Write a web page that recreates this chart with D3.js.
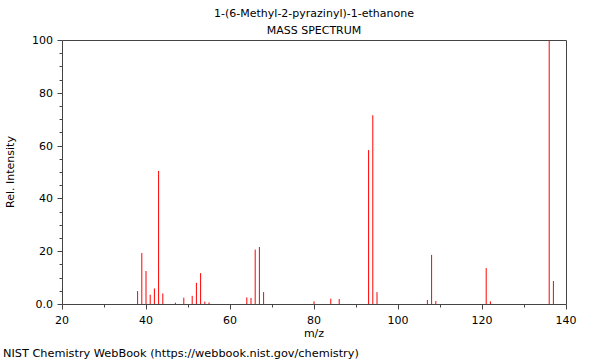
<!DOCTYPE html>
<html>
<head>
<meta charset="utf-8">
<script src="https://cdn.jsdelivr.net/npm/d3@7"></script>
<style>
  html, body { margin: 0; padding: 0; background: #fff; }
  svg { display: block; font-family: "DejaVu Sans", sans-serif; }
</style>
</head>
<body>
<svg id="chart" width="600" height="360"></svg>
<script>
// Data
const titleLines = ["1-(6-Methyl-2-pyrazinyl)-1-ethanone", "MASS SPECTRUM"];
const mz = [38, 39, 40, 41, 42, 43, 44, 47, 49, 51, 52, 53, 54, 55, 64, 65, 66, 67, 68, 80, 84, 86, 93, 94, 95, 107, 108, 109, 121, 122, 136, 137];
const intensity = [4.9, 19.3, 12.5, 3.5, 5.9, 50.4, 4.0, 0.5, 2.4, 3.1, 8.0, 11.7, 0.9, 0.6, 2.5, 2.3, 20.6, 21.6, 4.5, 1.0, 2.0, 1.9, 58.3, 71.5, 4.5, 1.5, 18.6, 1.1, 13.6, 1.0, 100, 8.7];
const xMajorTicks = [20, 40, 60, 80, 100, 120, 140];
const xMinorTicks = [30, 50, 70, 90, 110, 130];
const yMajorTicks = [0, 20, 40, 60, 80, 100];
const yMinorTicks = [5, 10, 15, 25, 30, 35, 45, 50, 55, 65, 70, 75, 85, 90, 95];

const svg = d3.select("#chart");
const pLeft = 62, pRight = 566, pTop = 40, pBottom = 304;

const x = d3.scaleLinear().domain([20, 140]).range([pLeft, pRight]);
const y = d3.scaleLinear().domain([0, 100]).range([pBottom, pTop]);

// Peaks
svg.append("g").selectAll("line").data(mz).join("line")
  .attr("x1", d => x(d)).attr("x2", d => x(d))
  .attr("y1", y(0)).attr("y2", (d, i) => y(intensity[i]))
  .attr("stroke", "#ff0000").attr("stroke-width", 1);

// Frame
const axisColor = "#444";
svg.append("path")
  .attr("d", `M${pLeft + 0.5},${pTop + 0.5}H${pRight + 0.5}V${pBottom + 0.5}`)
  .attr("fill", "none").attr("stroke", axisColor);

// X axis
const xAxis = svg.append("g").attr("transform", `translate(0.5,${pBottom + 0.5})`);
xAxis.append("path").attr("d", `M${pLeft},0H${pRight}`).attr("stroke", axisColor);
xAxis.selectAll(".maj").data(xMajorTicks).join("line")
  .attr("x1", d => Math.round(x(d))).attr("x2", d => Math.round(x(d)))
  .attr("y1", 0).attr("y2", 5).attr("stroke", axisColor);
xAxis.selectAll(".min").data(xMinorTicks).join("line")
  .attr("x1", d => Math.round(x(d))).attr("x2", d => Math.round(x(d)))
  .attr("y1", 0).attr("y2", 3).attr("stroke", axisColor);
svg.append("g").selectAll("text").data(xMajorTicks).join("text")
  .attr("x", d => x(d)).attr("y", 324)
  .attr("text-anchor", "middle").attr("font-size", 11).attr("fill", "#000")
  .text(d => d);

// Y axis
const yAxis = svg.append("g").attr("transform", `translate(${pLeft + 0.5},0.5)`);
yAxis.append("path").attr("d", `M0,${pTop}V${pBottom}`).attr("stroke", axisColor);
yAxis.selectAll(".maj").data(yMajorTicks).join("line")
  .attr("y1", d => Math.round(y(d))).attr("y2", d => Math.round(y(d)))
  .attr("x1", 0).attr("x2", -5).attr("stroke", axisColor);
yAxis.selectAll(".min").data(yMinorTicks).join("line")
  .attr("y1", d => Math.round(y(d))).attr("y2", d => Math.round(y(d)))
  .attr("x1", 0).attr("x2", -3).attr("stroke", axisColor);
svg.append("g").selectAll("text").data(yMajorTicks).join("text")
  .attr("x", 53).attr("y", d => y(d) + 4)
  .attr("text-anchor", "end").attr("font-size", 11).attr("fill", "#000")
  .text(d => d === 0 ? "0.0" : d);

// Titles and labels
svg.selectAll(".title").data(titleLines).join("text")
  .attr("x", (pLeft + pRight) / 2).attr("y", (d, i) => 17 + i * 17)
  .attr("text-anchor", "middle").attr("font-size", 11).attr("fill", "#000")
  .text(d => d);

svg.append("text").attr("x", (pLeft + pRight) / 2).attr("y", 337)
  .attr("text-anchor", "middle").attr("font-size", 11).text("m/z");

svg.append("text")
  .attr("transform", `translate(14,${(pTop + pBottom) / 2}) rotate(-90)`)
  .attr("text-anchor", "middle").attr("font-size", 11).text("Rel. Intensity");

svg.append("text").attr("x", 3).attr("y", 357)
  .attr("font-size", 11.3).text("NIST Chemistry WebBook (https://webbook.nist.gov/chemistry)");
</script>
</body>
</html>
